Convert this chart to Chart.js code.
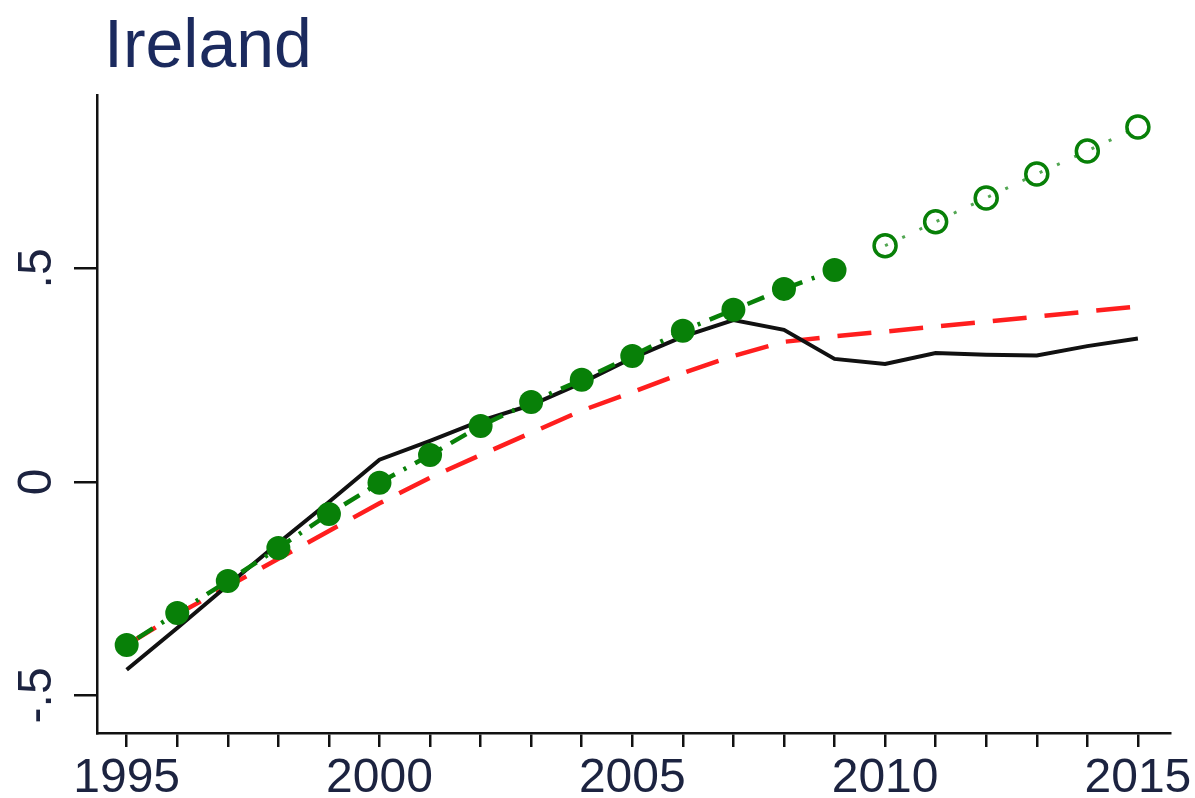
<!DOCTYPE html>
<html>
<head>
<meta charset="utf-8">
<script src="https://cdn.jsdelivr.net/npm/chart.js@4"></script>
<style>
  html, body { margin: 0; padding: 0; background: #fff; }
  #wrap { width: 1195px; height: 798px; }
</style>
</head>
<body>
<div id="wrap"><canvas id="irelandChart" width="1195" height="798"></canvas></div>
<script>
const years = [1995, 1996, 1997, 1998, 1999, 2000, 2001, 2002, 2003, 2004,
    2005, 2006, 2007, 2008, 2009, 2010, 2011, 2012, 2013, 2014, 2015]
// black solid line
const actual = [-0.44, -0.342, -0.242, -0.143, -0.047, 0.052, 0.096, 0.143, 0.18, 0.232,
    0.29, 0.34, 0.379, 0.356, 0.288, 0.276, 0.302, 0.298, 0.296, 0.318, 0.336]
// red dashed line
const trend = [-0.382, -0.31, -0.245, -0.18, -0.115, -0.05, 0.01, 0.063, 0.115, 0.167,
    0.21, 0.255, 0.295, 0.328, 0.341, 0.352, 0.364, 0.375, 0.387, 0.399, 0.411]
// green filled dots (1995-2009)
const fitted = [-0.382, -0.307, -0.232, -0.155, -0.075, -0.002, 0.063, 0.131, 0.187, 0.239,
    0.295, 0.354, 0.403, 0.452, 0.496]
// green open circles (2010-2015)
const projected = [0.553, 0.609, 0.665, 0.721, 0.775, 0.831]
const xLabelYears = [1995, 2000, 2005, 2010, 2015]
const yTicks = [-0.5, 0, 0.5]
const yTickLabels = ['-.5', '0', '.5']

const green = 'rgb(8,128,8)'
const inkColour = '#1c2340'

const pts = (vals, offset) => vals.map((v, i) => ({ x: years[i + offset], y: v }))

// rotated y labels + title, drawn on the canvas like the R plot
const extraText = {
    id: 'extraText',
    afterDraw(chart) {
        const ctx = chart.ctx
        const yScale = chart.scales.y
        ctx.save()
        ctx.fillStyle = inkColour
        ctx.font = '48px "Liberation Sans", Arial, sans-serif'
        ctx.textAlign = 'center'
        ctx.textBaseline = 'alphabetic'
        yTicks.forEach((v, i) => {
            ctx.save()
            ctx.translate(51, yScale.getPixelForValue(v))
            ctx.rotate(-Math.PI / 2)
            ctx.fillText(yTickLabels[i], 0, 0)
            ctx.restore()
        })
        ctx.textAlign = 'left'
        ctx.fillStyle = '#1b2a5e'
        ctx.font = '68px "Liberation Sans", Arial, sans-serif'
        ctx.fillText('Ireland', 104, 67)
        ctx.restore()
    }
}

const chart = new Chart(document.getElementById('irelandChart'), {
    type: 'line',
    data: {
        datasets: [
            {
                data: pts(fitted, 0),
                borderColor: green,
                backgroundColor: green,
                borderWidth: 4.5,
                borderDash: [3, 10, 18, 10],
                pointRadius: 12,
                pointBorderWidth: 0,
                pointBackgroundColor: green,
                order: 1
            },
            {
                data: pts(projected, 15),
                borderColor: 'rgba(8,128,8,0.7)',
                borderWidth: 3,
                borderDash: [3, 16],
                pointRadius: 11,
                pointBorderWidth: 3.5,
                pointBorderColor: green,
                pointBackgroundColor: 'rgba(255,255,255,0)',
                order: 1
            },
            {
                data: pts(actual, 0),
                borderColor: '#111',
                borderWidth: 4,
                pointRadius: 0,
                order: 2
            },
            {
                data: pts(trend, 0),
                borderColor: 'rgb(255,30,30)',
                borderWidth: 4.5,
                borderDash: [34, 18],
                pointRadius: 0,
                order: 3
            }
        ]
    },
    options: {
        responsive: false,
        animation: false,
        layout: { padding: { top: 95, right: 24, left: 0, bottom: 0 } },
        plugins: {
            legend: { display: false },
            tooltip: { enabled: false }
        },
        scales: {
            x: {
                type: 'linear',
                min: 1994.413,
                max: 2015.64,
                afterFit: (scale) => { scale.height = 65 },
                border: { display: true, color: '#111', width: 2.5 },
                grid: { drawOnChartArea: false, drawTicks: true, tickLength: 14, tickColor: '#111', lineWidth: 2.5 },
                ticks: {
                    stepSize: 1,
                    autoSkip: false,
                    includeBounds: false,
                    maxRotation: 0,
                    padding: 3,
                    color: inkColour,
                    font: { family: '"Liberation Sans", Arial, sans-serif', size: 48 },
                    callback: (v) => xLabelYears.includes(v) ? String(v) : ''
                }
            },
            y: {
                min: -0.588,
                max: 0.906,
                afterFit: (scale) => { scale.width = 97 },
                afterBuildTicks: (scale) => { scale.ticks = yTicks.map((v) => ({ value: v })) },
                border: { display: true, color: '#111', width: 2.5 },
                grid: { drawOnChartArea: false, drawTicks: true, tickLength: 23, tickColor: '#111', lineWidth: 2.5 },
                ticks: { display: false }
            }
        }
    },
    plugins: [extraText]
})
</script>
</body>
</html>
